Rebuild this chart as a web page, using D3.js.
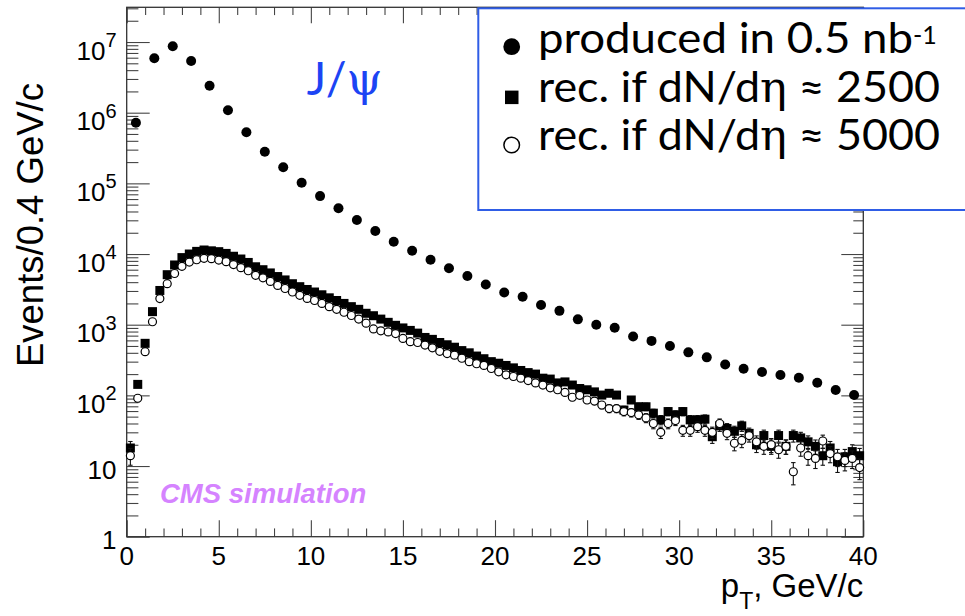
<!DOCTYPE html>
<html>
<head>
<meta charset="utf-8">
<script src="https://cdn.jsdelivr.net/npm/d3@7.9.0/dist/d3.min.js"></script>
<style>
  body { margin: 0; background: #fff; }
  svg { display: block; }
</style>
</head>
<body>
<svg width="965" height="616"></svg>
<script>
// produced J/psi, 1 GeV wide points
const producedPt = [0.5, 1.5, 2.5, 3.5, 4.5, 5.5, 6.5, 7.5, 8.5, 9.5,
  10.5, 11.5, 12.5, 13.5, 14.5, 15.5, 16.5, 17.5, 18.5, 19.5,
  20.5, 21.5, 22.5, 23.5, 24.5, 25.5, 26.5, 27.5, 28.5, 29.5,
  30.5, 31.5, 32.5, 33.5, 34.5, 35.5, 36.5, 37.5, 38.5, 39.5];
const produced = [7.2e5, 5.9e6, 8.7e6, 5.4e6, 2.4e6, 1.08e6, 5.3e5, 2.8e5, 1.69e5, 1.02e5,
  6.6e4, 4.44e4, 3.03e4, 2.12e4, 1.49e4, 1.11e4, 8300, 6280, 4890, 3700,
  2860, 2480, 1900, 1570, 1190, 1000, 906, 680, 590, 499,
  406, 345, 274, 238, 214, 194, 178, 151, 119, 101];

// reconstructed, 0.4 GeV bins
const recPt = [0.2, 0.6, 1.0, 1.4, 1.8, 2.2, 2.6, 3.0, 3.4, 3.8,
  4.2, 4.6, 5.0, 5.4, 5.8, 6.2, 6.6, 7.0, 7.4, 7.8,
  8.2, 8.6, 9.0, 9.4, 9.8, 10.2, 10.6, 11.0, 11.4, 11.8,
  12.2, 12.6, 13.0, 13.4, 13.8, 14.2, 14.6, 15.0, 15.4, 15.8,
  16.2, 16.6, 17.0, 17.4, 17.8, 18.2, 18.6, 19.0, 19.4, 19.8,
  20.2, 20.6, 21.0, 21.4, 21.8, 22.2, 22.6, 23.0, 23.4, 23.8,
  24.2, 24.6, 25.0, 25.4, 25.8, 26.2, 26.6, 27.0, 27.4, 27.8,
  28.2, 28.6, 29.0, 29.4, 29.8, 30.2, 30.6, 31.0, 31.4, 31.8,
  32.2, 32.6, 33.0, 33.4, 33.8, 34.2, 34.6, 35.0, 35.4, 35.8,
  36.2, 36.6, 37.0, 37.4, 37.8, 38.2, 38.6, 39.0, 39.4, 39.8];
const rec2500 = [18, 143, 545, 1530, 3050, 5100, 7000, 8900, 10000, 10900,
  11400, 11100, 10800, 10200, 9300, 8500, 7600, 6600, 6000, 5400,
  4800, 4300, 3800, 3450, 3150, 2900, 2650, 2400, 2200, 2000,
  1800, 1650, 1450, 1340, 1200, 1080, 980, 900, 830, 760,
  660, 620, 560, 520, 480, 430, 400, 360, 330, 300,
  285, 265, 245, 225, 210, 200, 175, 170, 150, 155,
  140, 125, 120, 112, 101, 107, 101, 62, 86, 69,
  69, 56, 45, 59, 53, 59, 45, 45, 46, 26,
  37, 34, 31, 37, 29, 20, 27, 19, 27, 19,
  27, 25, 22, 19, 14, 18, 11.5, 13.5, 16, 14];
const rec5000 = [14, 91, 415, 1100, 2340, 3800, 5300, 6700, 7700, 8300,
  8700, 8600, 8200, 7800, 7100, 6400, 5800, 5000, 4600, 4100,
  3600, 3250, 2900, 2600, 2350, 2200, 2000, 1800, 1650, 1500,
  1350, 1200, 1050, 870, 820, 790, 750, 640, 575, 560,
  515, 470, 420, 390, 370, 335, 300, 280, 265, 240,
  215, 195, 185, 175, 162, 150, 140, 128, 120, 110,
  94, 100, 86, 83, 73, 65, 65, 59, 57, 53,
  48, 40, 30, 40, 44, 32, 32, 36, 32, 30,
  40, 29, 21, 23, 27, 22, 19, 20, 17, 19,
  8.3, 18, 14, 12.8, 22.6, 15, 13.5, 12, 12.8, 9.5];

const xMajor = [0, 5, 10, 15, 20, 25, 30, 35, 40];
const xMinor = [1, 2, 3, 4, 6, 7, 8, 9, 11, 12, 13, 14, 16, 17, 18, 19, 21, 22, 23, 24,
  26, 27, 28, 29, 31, 32, 33, 34, 36, 37, 38, 39];
const yDecades = [0, 1, 2, 3, 4, 5, 6, 7];

const svg = d3.select('svg');

const x = d3.scaleLinear().domain([0, 40]).range([126.7, 863.3]);
const y = d3.scaleLog().domain([1, 3.1e7]).range([536.7, 7.3]);

// minor ticks on log axis: 2..9 in each decade
let yMajor = yDecades.map(d => Math.pow(10, d));
let yMinor = [];
yDecades.forEach(d => {
  for (let m = 2; m <= 9; m++) {
    let v = m * Math.pow(10, d);
    if (v <= 3.1e7) yMinor.push(v);
  }
});

function plainAxis(g) {
  g.select('.domain').remove();
  g.selectAll('text').remove();
  g.selectAll('line').attr('stroke', '#444').attr('stroke-width', 1.1);
}

// ticks on all four sides, pointing inward
svg.append('g').attr('transform', `translate(0,${y(1)})`)
  .call(d3.axisBottom(x).tickValues(xMajor).tickSize(-16.5)).call(plainAxis);
svg.append('g').attr('transform', `translate(0,${y(1)})`)
  .call(d3.axisBottom(x).tickValues(xMinor).tickSize(-8.3)).call(plainAxis);
svg.append('g').attr('transform', `translate(0,${y(3.1e7)})`)
  .call(d3.axisTop(x).tickValues(xMajor).tickSize(-16)).call(plainAxis);
svg.append('g').attr('transform', `translate(0,${y(3.1e7)})`)
  .call(d3.axisTop(x).tickValues(xMinor).tickSize(-7.8)).call(plainAxis);
svg.append('g').attr('transform', `translate(${x(0)},0)`)
  .call(d3.axisLeft(y).tickValues(yMajor).tickSize(-23)).call(plainAxis);
svg.append('g').attr('transform', `translate(${x(0)},0)`)
  .call(d3.axisLeft(y).tickValues(yMinor).tickSize(-11.7)).call(plainAxis);
svg.append('g').attr('transform', `translate(${x(40)},0)`)
  .call(d3.axisRight(y).tickValues(yMajor).tickSize(-22)).call(plainAxis);
svg.append('g').attr('transform', `translate(${x(40)},0)`)
  .call(d3.axisRight(y).tickValues(yMinor).tickSize(-10)).call(plainAxis);

// frame
svg.append('rect')
  .attr('x', x(0)).attr('y', y(3.1e7))
  .attr('width', x(40) - x(0)).attr('height', y(1) - y(3.1e7))
  .attr('fill', 'none').attr('stroke', '#333').attr('stroke-width', 1.3);

// tick labels
const labelFont = "'Liberation Sans', Arial, Helvetica, sans-serif";
xMajor.forEach(v => {
  svg.append('text')
    .attr('x', x(v)).attr('y', 565)
    .attr('text-anchor', 'middle')
    .attr('font-family', labelFont).attr('font-size', 26)
    .text(v);
});
yDecades.forEach(d => {
  let t = svg.append('text')
    .attr('x', 116.5)
    .attr('text-anchor', 'end')
    .attr('font-family', labelFont).attr('font-size', 26);
  if (d === 0) {
    t.attr('y', y(1) + 12.6).text('1');
  } else if (d === 1) {
    t.attr('y', y(10) + 13.2).text('10');
  } else {
    t.attr('y', y(Math.pow(10, d)) + 17.5);
    t.append('tspan').text('10');
    t.append('tspan').attr('font-size', 20).attr('dy', -12.6).text(d);
  }
});

// axis titles
let xt = svg.append('text')
  .attr('x', x(40)).attr('y', 596.7)
  .attr('text-anchor', 'end')
  .attr('font-family', labelFont).attr('font-size', 33);
xt.append('tspan').text('p');
xt.append('tspan').attr('font-size', 23).attr('dy', 12).text('T');
xt.append('tspan').attr('dy', -12).text(', GeV/c');

svg.append('text')
  .attr('transform', 'translate(43.3,83) rotate(-90)')
  .attr('text-anchor', 'end')
  .attr('font-family', labelFont).attr('font-size', 36.5)
  .text('Events/0.4 GeV/c');

// error bars, sqrt(N)
function errorBars(xs, vals) {
  let g = svg.append('g').attr('stroke', '#111').attr('stroke-width', 1.1);
  vals.forEach((v, i) => {
    let e = Math.sqrt(v);
    let hi = y(v + e), lo = y(Math.max(v - e, 1));
    let cx = x(xs[i]);
    g.append('line').attr('x1', cx).attr('x2', cx).attr('y1', hi).attr('y2', lo);
    g.append('line').attr('x1', cx - 2.2).attr('x2', cx + 2.2).attr('y1', hi).attr('y2', hi);
    g.append('line').attr('x1', cx - 2.2).attr('x2', cx + 2.2).attr('y1', lo).attr('y2', lo);
  });
}

// produced: filled circles
svg.append('g').selectAll('circle')
  .data(produced).join('circle')
  .attr('cx', (d, i) => x(producedPt[i]))
  .attr('cy', d => y(d))
  .attr('r', 5)
  .attr('fill', '#000');

// dN/deta 2500: filled squares
errorBars(recPt, rec2500);
svg.append('g').selectAll('rect')
  .data(rec2500).join('rect')
  .attr('x', (d, i) => x(recPt[i]) - 4.5)
  .attr('y', d => y(d) - 4.5)
  .attr('width', 9).attr('height', 9)
  .attr('fill', '#000');

// dN/deta 5000: open circles
errorBars(recPt, rec5000);
svg.append('g').selectAll('circle')
  .data(rec5000).join('circle')
  .attr('cx', (d, i) => x(recPt[i]))
  .attr('cy', d => y(d))
  .attr('r', 4)
  .attr('fill', '#fff')
  .attr('stroke', '#000')
  .attr('stroke-width', 1.2);

// J/psi label
let jp = svg.append('text')
  .attr('x', 306.7).attr('y', 95)
  .attr('fill', '#1c44f4')
  .attr('font-size', 46);
jp.append('tspan').attr('font-family', 'Lato, sans-serif').text('J/');
jp.append('tspan').attr('font-family', "'DejaVu Serif', 'Liberation Serif', serif").text('ψ');

// CMS simulation
svg.append('text')
  .attr('x', 160).attr('y', 503.3)
  .attr('fill', '#d583ff')
  .attr('font-family', labelFont)
  .attr('font-weight', 'bold').attr('font-style', 'italic')
  .attr('font-size', 27.5)
  .text('CMS simulation');

// legend
const legendFont = 'Lato, sans-serif';
svg.append('rect')
  .attr('x', 478.3).attr('y', 8.3)
  .attr('width', 520).attr('height', 201.7)
  .attr('fill', '#fff')
  .attr('stroke', '#2f5de6').attr('stroke-width', 2);

svg.append('circle').attr('cx', 511.7).attr('cy', 46.7).attr('r', 8.4).attr('fill', '#000');
svg.append('rect').attr('x', 505).attr('y', 90.6).attr('width', 13.5).attr('height', 13.5).attr('fill', '#000');
svg.append('circle').attr('cx', 511.7).attr('cy', 145).attr('r', 7.8)
  .attr('fill', '#fff').attr('stroke', '#000').attr('stroke-width', 1.5);

let l1 = svg.append('text')
  .attr('x', 538).attr('y', 53.3)
  .attr('font-family', legendFont).attr('font-size', 43);
l1.append('tspan').attr('textLength', 375).attr('lengthAdjust', 'spacingAndGlyphs').text('produced in 0.5 nb');
l1.append('tspan').attr('font-size', 25).attr('dy', -9).text('-1');

function recLine(yb, num) {
  let t = svg.append('text')
    .attr('x', 538).attr('y', yb)
    .attr('font-family', legendFont).attr('font-size', 43)
    .attr('textLength', 402).attr('lengthAdjust', 'spacingAndGlyphs');
  t.append('tspan').text('rec. if dN/d');
  t.append('tspan').attr('font-family', "'DejaVu Serif', 'Liberation Serif', serif").text('η');
  t.append('tspan').text(' ≈ ' + num);
}
recLine(101.7, '2500');
recLine(150, '5000');
</script>
</body>
</html>
